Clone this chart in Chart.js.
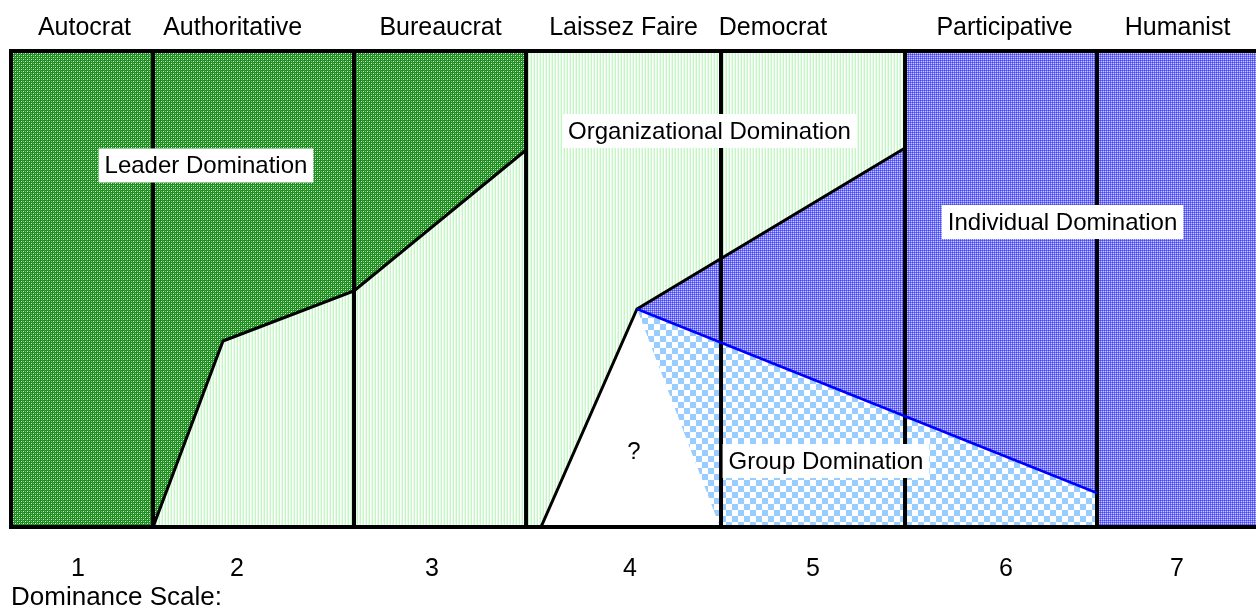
<!DOCTYPE html>
<html>
<head>
<meta charset="utf-8">
<script src="https://cdn.jsdelivr.net/npm/chart.js@4/dist/chart.umd.min.js"></script>
<style>
  body { margin: 0; background: #fff; }
</style>
</head>
<body>
<canvas id="domination-chart" width="1256" height="615"></canvas>
<script>
// Horizontal axis runs 0-100 across the frame, vertical 0-100 bottom to top
const styleNames = ["Autocrat", "Authoritative", "Bureaucrat", "Laissez Faire", "Democrat", "Participative", "Humanist"];
const stylePos = [5.9, 17.8, 34.5, 49.2, 61.2, 79.8, 93.7];
const scaleLabels = ["1", "2", "3", "4", "5", "6", "7"];
const scalePos = [5.38, 18.15, 33.82, 49.72, 64.42, 79.92, 93.65];
const dividerX = [11.41, 27.55, 41.37, 57.03, 71.81, 87.23];

// boundary lines
const leaderX = [0, 11.41, 17.03, 27.55, 41.37];
const leaderY = [0, 0, 39.08, 49.6, 79.2];
const orgX = [42.57, 50.28, 71.81];
const orgY = [0, 45.8, 79.62];
const groupX = [50.28, 87.23];
const groupY = [45.8, 7.14];
const unknownX = [42.57, 50.28, 56.95];
const unknownY = [0, 45.8, 0];
const individualX = [50.28, 87.23, 87.23, 100];
const individualY = [45.8, 7.14, 0, 0];

const areaNames = ["Leader Domination", "Organizational Domination", "Individual Domination", "Group Domination", "?"];
const areaX = [15.66, 56.1, 84.46, 65.46, 50.04];
const areaY = [75.95, 83.19, 64.08, 13.87, 15.97];

const pts = (xs, ys) => xs.map((x, i) => ({ x: x, y: ys[i] }));

function pattern(w, h, cells) {
    const c = document.createElement('canvas');
    c.width = w; c.height = h;
    const ctx = c.getContext('2d');
    cells(ctx);
    return ctx.createPattern(c, 'repeat');
}

const darkGreen = pattern(4, 4, ctx => {
    ctx.fillStyle = '#188c18'; ctx.fillRect(0, 0, 4, 4);
    ctx.fillStyle = '#e0f4e0'; ctx.fillRect(1, 1, 1, 1); ctx.fillRect(3, 3, 1, 1);
    ctx.fillStyle = '#80c480'; ctx.fillRect(3, 1, 1, 1); ctx.fillRect(1, 3, 1, 1);
    ctx.fillStyle = '#40a040'; ctx.fillRect(0, 2, 1, 1); ctx.fillRect(2, 0, 1, 1);
});
const lightGreen = pattern(3, 1, ctx => {
    ctx.fillStyle = '#c4f5c4'; ctx.fillRect(0, 0, 1, 1);
    ctx.fillStyle = '#ffffff'; ctx.fillRect(1, 0, 1, 1);
    ctx.fillStyle = '#e4fbe4'; ctx.fillRect(2, 0, 1, 1);
});
const blue = pattern(2, 2, ctx => {
    ctx.fillStyle = '#4646f2'; ctx.fillRect(0, 0, 2, 2);
    ctx.fillStyle = '#7474f6'; ctx.fillRect(1, 0, 1, 1); ctx.fillRect(0, 1, 1, 1);
    ctx.fillStyle = '#c8c8ff'; ctx.fillRect(1, 1, 1, 1);
});
const lightBlue = pattern(12, 12, ctx => {
    ctx.fillStyle = '#ffffff'; ctx.fillRect(0, 0, 12, 12);
    ctx.fillStyle = '#99ccff'; ctx.fillRect(0, 0, 6, 6); ctx.fillRect(6, 6, 6, 6);
});

const dividerData = [];
dividerX.forEach(x => {
    dividerData.push({ x: x, y: 0 }, { x: x, y: 100 }, { x: x, y: null });
});

const areaLabels = {
    id: 'areaLabels',
    afterDatasetsDraw(chart) {
        const ctx = chart.ctx;
        const xs = chart.scales.x, ys = chart.scales.y;
        ctx.save();
        ctx.font = '24px "Liberation Sans", Arial, sans-serif';
        ctx.textAlign = 'center';
        ctx.textBaseline = 'middle';
        areaNames.forEach((name, i) => {
            const cx = xs.getPixelForValue(areaX[i]);
            const cy = ys.getPixelForValue(areaY[i]);
            const w = ctx.measureText(name).width + 12;
            ctx.fillStyle = '#fff';
            ctx.fillRect(cx - w / 2, cy - 17, w, 34);
            ctx.fillStyle = '#000';
            ctx.fillText(name, cx, cy + 1);
        });
        ctx.restore();
    }
};

Chart.defaults.font.family = '"Liberation Sans", Arial, sans-serif';
Chart.defaults.color = '#000';

new Chart(document.getElementById("domination-chart"), {
    type: 'line',
    data: {
        datasets: [
            { label: "frame", data: pts([100, 0, 0, 100], [0, 0, 100, 100]), borderColor: '#000', borderWidth: 4, fill: false, clip: false, order: 0 },
            { label: "dividers", data: dividerData, borderColor: '#000', borderWidth: 4, fill: false, order: 1 },
            { label: "leader edge", data: pts(leaderX, leaderY), borderColor: '#000', borderWidth: 3, fill: false, order: 2 },
            { label: "org edge", data: pts(orgX, orgY), borderColor: '#000', borderWidth: 3, fill: false, order: 2 },
            { label: "group edge", data: pts(groupX, groupY), borderColor: '#0000ff', borderWidth: 2.5, fill: false, order: 0 },
            { label: "?", data: pts(unknownX, unknownY), borderWidth: 0, backgroundColor: '#fff', fill: 'start', order: 5 },
            { label: "Group Domination", data: pts(groupX, groupY), borderWidth: 0, backgroundColor: lightBlue, fill: 'start', order: 6 },
            { label: "Organizational overlay", data: pts(orgX.slice(1), orgY.slice(1)), borderWidth: 0, backgroundColor: lightGreen, fill: 'end', order: 7 },
            { label: "Individual Domination", data: pts(individualX, individualY), borderWidth: 0, backgroundColor: blue, fill: 'end', order: 8 },
            { label: "Leader Domination", data: pts(leaderX, leaderY), borderWidth: 0, backgroundColor: darkGreen, fill: 'end', order: 9 },
            { label: "Organizational Domination", data: pts([0, 100], [0, 0]), borderWidth: 0, backgroundColor: lightGreen, fill: 'end', order: 10 }
        ]
    },
    options: {
        responsive: false,
        animation: false,
        elements: { point: { radius: 0 }, line: { tension: 0 } },
        layout: { padding: { left: 11, right: 0, top: 0, bottom: 0 } },
        plugins: { legend: { display: false }, tooltip: { enabled: false } },
        scales: {
            x: {
                type: 'linear', position: 'bottom', min: 0, max: 100,
                grid: { display: false }, border: { display: false },
                afterBuildTicks: axis => { axis.ticks = scalePos.map(v => ({ value: v })); },
                afterFit: axis => { axis.height = 88; },
                ticks: { autoSkip: false, maxRotation: 0, padding: 19, font: { size: 25 }, callback: (v, i) => scaleLabels[i] },
                title: { display: true, text: 'Dominance Scale:', align: 'start', font: { size: 26 }, padding: { top: 0, bottom: 2 } }
            },
            x2: {
                type: 'linear', position: 'top', min: 0, max: 100,
                grid: { display: false }, border: { display: false },
                afterBuildTicks: axis => { axis.ticks = stylePos.map(v => ({ value: v })); },
                afterFit: axis => { axis.height = 51; },
                ticks: { autoSkip: false, maxRotation: 0, padding: 0, font: { size: 25 }, callback: (v, i) => styleNames[i] }
            },
            y: { display: false, min: 0, max: 100 }
        }
    },
    plugins: [areaLabels]
});
</script>
</body>
</html>
